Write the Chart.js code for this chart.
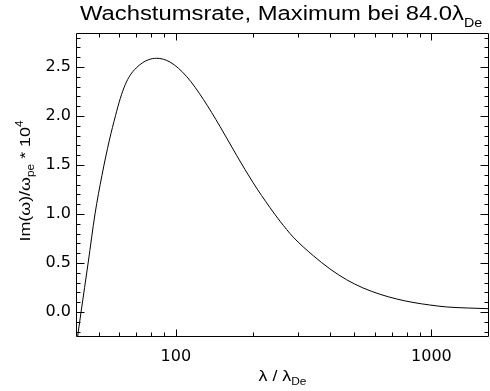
<!DOCTYPE html>
<html lang="de">
<head>
  <meta charset="UTF-8">
  <title>Wachstumsrate</title>
  <script src="https://cdn.jsdelivr.net/npm/chart.js"></script>
  <style>
    html, body { margin:0; padding:0; background:#fff; }
    canvas { display:block; }
  </style>
</head>
<body>
  <canvas id="rate" width="490" height="391"></canvas>
  <script>
    // Werte
    const lambda = [40.7, 42.6, 45.4, 48.3, 51.4, 55.0, 58.1, 60.6, 63.4, 66.3, 70.0, 73.9, 78.0, 84.0,
      95.0, 110.4, 128.2, 148.9, 173.1, 200.5, 233.6, 255.6, 288.0, 344.8, 400.6, 465.6, 539.0,
      628.1, 731.9, 847.2, 984.9, 1144.6, 1386.7, 1674.6];
    const growth = [-0.37, 0.0, 0.5, 1.0, 1.392, 1.756, 2.004, 2.177, 2.320, 2.417, 2.491, 2.542, 2.574, 2.59,
      2.551, 2.402, 2.170, 1.894, 1.597, 1.321, 1.065, 0.927, 0.764, 0.575, 0.440, 0.329, 0.246,
      0.181, 0.132, 0.097, 0.071, 0.051, 0.040, 0.033];

    const xMajor = [100, 1000];
    const xMinor = [50, 60, 70, 80, 90, 200, 300, 400, 500, 600, 700, 800, 900];
    const yMajor = [0.0, 0.5, 1.0, 1.5, 2.0, 2.5];
    const yMinor = [];
    for (let i = -2; i <= 28; i++) if (i % 5 !== 0) yMinor.push(i / 10);

    const FONT = '"Liberation Sans", Arial, sans-serif';
    const SX = 1.19; // IDL-Schrift ist breiter

    function rich(ctx, parts, x, y, align) {
      let w = 0;
      parts.forEach(p => { ctx.font = p[1] + 'px ' + FONT; w += ctx.measureText(p[0]).width; });
      ctx.save();
      ctx.translate(x, y);
      ctx.scale(SX, 1);
      let cx = align === 'center' ? -w / 2 : 0;
      ctx.textBaseline = 'alphabetic';
      ctx.textAlign = 'left';
      parts.forEach(p => {
        ctx.font = p[1] + 'px ' + FONT;
        ctx.fillText(p[0], cx, p[2] || 0);
        cx += ctx.measureText(p[0]).width;
      });
      ctx.restore();
    }

    const idlFrame = {
      id: 'idlFrame',
      afterDraw(chart) {
        const ctx = chart.ctx, a = chart.chartArea;
        const xs = chart.scales.x, ys = chart.scales.y;
        const L = Math.round(a.left) + 0.5, R = Math.round(a.right) - 0.5;
        const T = Math.round(a.top) + 0.5, B = Math.round(a.bottom) - 0.5;
        ctx.save();
        ctx.strokeStyle = '#000';
        ctx.lineWidth = 1;
        ctx.beginPath();
        ctx.rect(L, T, R - L, B - T);
        const tx = (v, len) => {
          const p = Math.round(xs.getPixelForValue(v)) + 0.5;
          ctx.moveTo(p, B); ctx.lineTo(p, B - len);
          ctx.moveTo(p, T); ctx.lineTo(p, T + len);
        };
        const ty = (v, len) => {
          const p = Math.round(ys.getPixelForValue(v)) + 0.5;
          ctx.moveTo(L, p); ctx.lineTo(L + len, p);
          ctx.moveTo(R, p); ctx.lineTo(R - len, p);
        };
        xMajor.forEach(v => tx(v, 7));
        xMinor.forEach(v => tx(v, 4));
        yMajor.forEach(v => ty(v, 8));
        yMinor.forEach(v => ty(v, 4));
        ctx.stroke();

        ctx.fillStyle = '#000';
        rich(ctx, [['Wachstumsrate, Maximum bei 84.0λ', 20], ['De', 12, 7]], 80, 20, 'left');
        rich(ctx, [['λ / λ', 15], ['De', 10, 4]], (a.left + a.right) / 2, 381, 'center');
        ctx.save();
        ctx.translate(30, 181);
        ctx.rotate(-Math.PI / 2);
        rich(ctx, [['Im(ω)/ω', 15], ['pe', 10, 4], [' * 10', 15], ['4', 10, -7]], 0, 0, 'center');
        ctx.restore();
        ctx.restore();
      }
    };

    const tickFont = { family: '"DejaVu Sans", sans-serif', size: 16 };

    new Chart(document.getElementById('rate').getContext('2d'), {
      type: 'line',
      data: {
        datasets: [{
          data: lambda.map((x, i) => ({ x, y: growth[i] })),
          borderColor: '#000',
          borderWidth: 1,
          pointRadius: 0,
          fill: false,
          cubicInterpolationMode: 'monotone'
        }]
      },
      options: {
        responsive: false,
        animation: false,
        devicePixelRatio: 1,
        layout: { padding: { left: 0, right: 1, top: 33, bottom: 0 } },
        plugins: { legend: { display: false }, title: { display: false }, tooltip: { enabled: false } },
        scales: {
          x: {
            type: 'logarithmic',
            min: 40.7,
            max: 1680,
            afterBuildTicks: s => { s.ticks = xMajor.map(v => ({ value: v })); },
            afterFit: s => { s.height = 54; },
            grid: { display: false, drawTicks: false },
            border: { display: false },
            ticks: { callback: v => String(v), font: tickFont, color: '#000', padding: 10, maxRotation: 0, autoSkip: false }
          },
          y: {
            type: 'linear',
            min: -0.256,
            max: 2.848,
            afterBuildTicks: s => { s.ticks = yMajor.map(v => ({ value: v })); },
            afterFit: s => { s.width = 76; },
            grid: { display: false, drawTicks: false },
            border: { display: false },
            ticks: { callback: v => v.toFixed(1), font: tickFont, color: '#000', padding: 5 }
          }
        }
      },
      plugins: [idlFrame]
    });
  </script>
</body>
</html>
